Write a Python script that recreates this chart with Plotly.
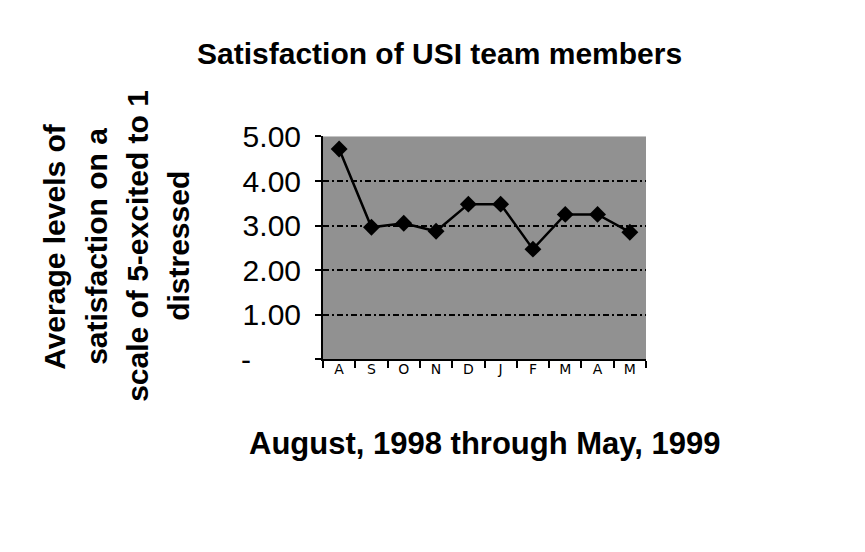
import plotly.graph_objects as go

months = ["Aug 1998", "Sep 1998", "Oct 1998", "Nov 1998", "Dec 1998",
          "Jan 1999", "Feb 1999", "Mar 1999", "Apr 1999", "May 1999"]
month_letters = ["A", "S", "O", "N", "D", "J", "F", "M", "A", "M"]
satisfaction = [4.72, 2.96, 3.05, 2.87, 3.48, 3.48, 2.47, 3.25, 3.25, 2.85]
y_tick_vals = [0, 1, 2, 3, 4, 5]
y_tick_text = ["-\u2007\u2007\u2007", "1.00", "2.00", "3.00", "4.00", "5.00"]

W, H = 865, 552
# paper area = page frame (left edge x=7, top edge y=10)
PL, PT = 7, 10
PW, PH = W - PL, H - PT
# plot area in pixels
L, R, T, B = 323, 646, 135, 368


def px(x):
    return (x - PL) / PW


def py(y):
    return (H - y) / PH


fig = go.Figure()
fig.add_trace(go.Scatter(
    x=months, y=satisfaction, mode="lines+markers",
    line=dict(color="black", width=2.5),
    marker=dict(symbol="diamond", size=13, color="black"),
    showlegend=False, cliponaxis=False,
))

no_decor = dict(showgrid=False, zeroline=False, showticklabels=False, ticks="",
                fixedrange=True, showline=True, linecolor="black", linewidth=2.5)

fig.update_layout(
    width=W, height=H,
    margin=dict(l=PL, r=0, t=PT, b=0, pad=0),
    paper_bgcolor="white", plot_bgcolor="#919191",
    font=dict(family="Liberation Sans, Arial, sans-serif", color="black"),
    xaxis=dict(
        domain=[px(L), px(R)],
        type="category", tickmode="array", tickvals=months, ticktext=month_letters,
        tickson="boundaries", ticks="outside", ticklen=7, tickwidth=1.5, tickcolor="black",
        showline=True, linecolor="black", linewidth=2, showgrid=False,
        tickfont=dict(family="DejaVu Sans, sans-serif", size=14, color="black"),
        ticklabelstandoff=-4, range=[-0.5, 9.5], fixedrange=True,
    ),
    yaxis=dict(
        domain=[py(B), py(T)],
        range=[0, 5], tickmode="array", tickvals=y_tick_vals, ticktext=y_tick_text,
        ticks="outside", ticklen=6, tickwidth=1.5, tickcolor="black",
        showline=True, linecolor="black", linewidth=2,
        showgrid=True, gridcolor="black", gridwidth=2, griddash="6px,3px,2px,3px",
        zeroline=False, tickfont=dict(size=30, color="black"),
        ticklabelstandoff=8, fixedrange=True,
    ),
    # page frame edges drawn as bare axis lines
    xaxis2=dict(domain=[0, 1], anchor="free", position=1, side="top", **no_decor),
    yaxis2=dict(domain=[0, 1], anchor="free", position=0, side="left", **no_decor),
)

annos = [
    dict(text="<b>Satisfaction of USI team members</b>", x=px(440), y=py(48), size=30, angle=0),
    dict(text="<b>August, 1998 through May, 1999</b>", x=px(484), y=py(456), size=31, angle=0),
    dict(text="<b>Average levels of</b>", x=px(54.5), y=py(250), size=30, angle=-90),
    dict(text="<b>satisfaction on a</b>", x=px(96.5), y=py(250), size=30, angle=-90),
    dict(text="<b>scale of 5-excited to 1</b>", x=px(137.5), y=py(250), size=30, angle=-90),
    dict(text="<b>distressed</b>", x=px(178.5), y=py(250), size=30, angle=-90),
]
for a in annos:
    fig.add_annotation(text=a["text"], x=a["x"], y=a["y"], xref="paper", yref="paper",
                       xanchor="center", yanchor="middle", showarrow=False,
                       textangle=a["angle"], font=dict(size=a["size"], color="black"))

fig.write_html(
    "out.html",
    config={"displayModeBar": False},
    post_script="document.body.style.margin='0';document.body.style.overflow='hidden';",
)
